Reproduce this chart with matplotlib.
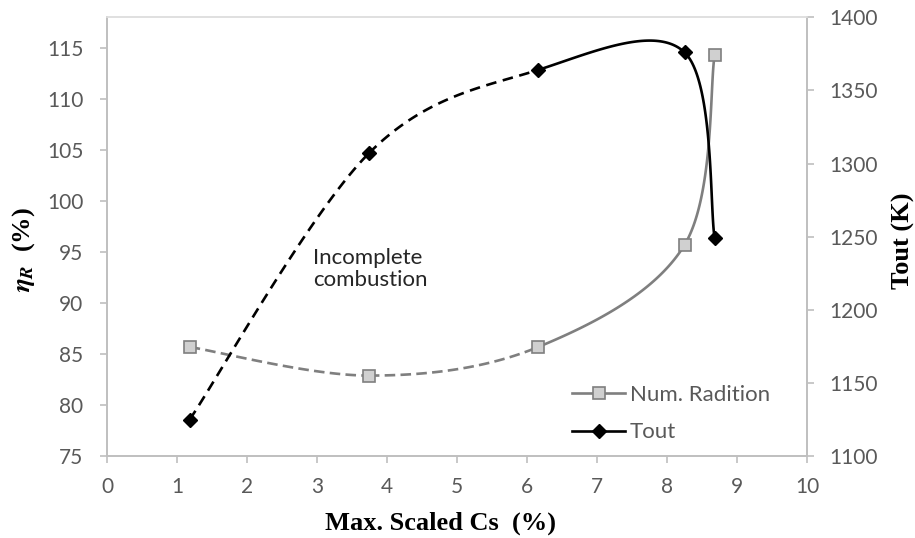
import numpy as np
import matplotlib.pyplot as plt
from matplotlib.lines import Line2D

# data
cs = [1.18, 3.74, 6.16, 8.25, 8.68]
eta_r = [85.7, 82.9, 85.7, 95.7, 114.3]
tout = [1125, 1307, 1364, 1376, 1249]

xlim = (0, 10)
ylim_eta = (75, 118)
ylim_t = (1100, 1400)

GRAY = "#7f7f7f"
TICK = "#595959"
SPINE = "#bfbfbf"
FONT = "Lato"
SERIF = "Liberation Serif"

plt.rcParams["mathtext.fontset"] = "stix"


def smooth(xs, ys, xr, yr, n=60):
    """Excel style smoothed line, done in axis fraction space"""
    u = (np.asarray(xs, float) - xr[0]) / (xr[1] - xr[0])
    v = (np.asarray(ys, float) - yr[0]) / (yr[1] - yr[0])
    p = np.column_stack([u, v])
    segs = []
    for i in range(len(p) - 1):
        p0 = p[i - 1] if i > 0 else p[i]
        p3 = p[i + 2] if i + 2 < len(p) else p[i + 1]
        c1 = p[i] + (p[i + 1] - p0) / 6
        c2 = p[i + 1] - (p3 - p[i]) / 6
        t = np.linspace(0, 1, n)[:, None]
        b = ((1 - t) ** 3 * p[i] + 3 * (1 - t) ** 2 * t * c1
             + 3 * (1 - t) * t ** 2 * c2 + t ** 3 * p[i + 1])
        segs.append((b[:, 0] * (xr[1] - xr[0]) + xr[0],
                     b[:, 1] * (yr[1] - yr[0]) + yr[0]))
    return segs


fig = plt.figure(figsize=(9.15, 5.38), dpi=100)
ax = fig.add_axes([0.117, 0.152, 0.765, 0.816])
ax2 = ax.twinx()

# Num. Radition on the left axis
for i, (sx, sy) in enumerate(smooth(cs, eta_r, xlim, ylim_eta)):
    ls = (0, (4, 2)) if i < 2 else "-"
    ax.plot(sx, sy, color=GRAY, lw=1.9, ls=ls, zorder=2)
ax.plot(cs, eta_r, ls="none", marker="s", ms=9, mfc="#d0d0d0", mec=GRAY,
        mew=1.2, zorder=3)

# Tout on the right axis
for i, (sx, sy) in enumerate(smooth(cs, tout, xlim, ylim_t)):
    ls = (0, (4, 2.5)) if i < 2 else "-"
    ax2.plot(sx, sy, color="black", lw=1.9, ls=ls, zorder=2)
ax2.plot(cs, tout, ls="none", marker="D", ms=7.5, color="black", zorder=3)

ax.set_xlim(*xlim)
ax.set_ylim(*ylim_eta)
ax2.set_ylim(*ylim_t)
ax.set_xticks(range(0, 11))
ax.set_yticks(range(75, 116, 5))
ax2.set_yticks(range(1100, 1401, 50))

for a in (ax, ax2):
    for s in a.spines.values():
        s.set_color(SPINE)
        s.set_linewidth(1.2)
    a.spines["top"].set_color("#e0e0e0")
    a.tick_params(colors=SPINE, labelcolor=TICK, length=5, width=1.2,
                  labelsize=15)
    for lab in a.get_xticklabels() + a.get_yticklabels():
        lab.set_fontfamily(FONT)
ax.tick_params(axis="y", pad=12)
ax2.tick_params(axis="y", pad=11)
ax.tick_params(axis="x", pad=10)

ax.set_xlabel("Max. Scaled Cs  (%)", family=SERIF, fontweight="bold",
              fontsize=19, va="top")
ax.xaxis.set_label_coords(0.477, -0.125)
ax.set_ylabel(r"$\mathbfit{\eta}_{\mathbfit{R}}$  (%)", family=SERIF,
              fontweight="bold", fontsize=19)
ax.yaxis.set_label_coords(-0.1, 0.47)
ax2.set_ylabel("Tout (K)", family=SERIF, fontweight="bold", fontsize=19,
               rotation=90)
ax2.yaxis.set_label_coords(1.121, 0.49)

ax.text(2.94, 95.4, "Incomplete\ncombustion", family=FONT, fontsize=16,
        color="#262626", linespacing=1.1, va="top")

handles = [
    Line2D([], [], color=GRAY, lw=1.9, marker="s", ms=9, mfc="#d0d0d0",
           mec=GRAY, mew=1.2),
    Line2D([], [], color="black", lw=1.9, marker="D", ms=7.5),
]
leg = ax.legend(handles, ["Num. Radition", "Tout"], loc="upper left",
                bbox_to_anchor=(0.664, 0.162), frameon=False,
                prop={"family": FONT, "size": 16}, handlelength=2.4,
                handletextpad=0.2, labelspacing=0.78, borderpad=0,
                borderaxespad=0)
for t in leg.get_texts():
    t.set_color(TICK)

fig.savefig("out.png", dpi=100)
